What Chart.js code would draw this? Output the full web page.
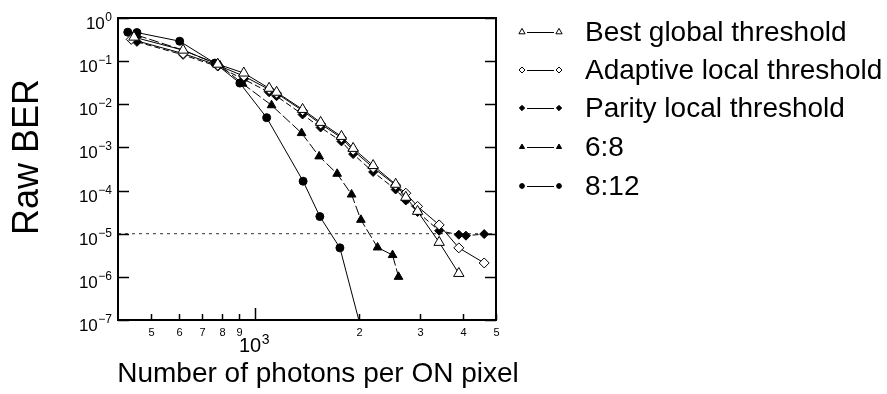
<!DOCTYPE html>
<html>
<head>
<meta charset="utf-8">
<script src="https://cdn.jsdelivr.net/npm/chart.js@4.4.1/dist/chart.umd.min.js"></script>
<style>
  html, body { margin: 0; padding: 0; background: #fff; }
  #wrap { width: 887px; height: 394px; }
</style>
</head>
<body>
<div id="wrap"><canvas id="chart"></canvas></div>
<script>
// photons per ON pixel vs raw BER
const bestX = [445, 618, 779, 927, 1098, 1154, 1373, 1549, 1780, 1925, 2200, 2557, 2737, 2960, 3420, 3900];
const bestY = [0.36, 0.18, 0.085, 0.053, 0.0235, 0.019, 0.0076, 0.0038, 0.0018, 9.5e-4, 3.8e-4, 1.4e-4, 7e-5, 3.3e-5, 6.3e-6, 1.2e-6];

const adaptiveX = [437, 618, 779, 927, 1098, 1154, 1373, 1549, 1780, 1925, 2200, 2557, 2737, 2960, 3420, 3900, 4620];
const adaptiveY = [0.32, 0.15, 0.08, 0.045, 0.022, 0.018, 0.0071, 0.0035, 0.00167, 8.6e-4, 3.4e-4, 1.33e-4, 8.7e-5, 4.3e-5, 1.6e-5, 4.7e-6, 2.1e-6];

const parityX = [454, 618, 779, 927, 1098, 1154, 1373, 1549, 1780, 1925, 2200, 2557, 2737, 2960, 3420, 3900, 4090, 4620];
const parityY = [0.28, 0.14, 0.075, 0.038, 0.019, 0.0154, 0.0058, 0.0029, 0.00138, 7.0e-4, 2.7e-4, 1.06e-4, 5.9e-5, 3.2e-5, 1.17e-5, 9.5e-6, 9.0e-6, 9.8e-6];

const r68X = [454, 618, 790, 920, 1116, 1364, 1534, 1730, 1905, 2027, 2266, 2505, 2607];
const r68Y = [0.4, 0.18, 0.08, 0.03, 0.0095, 0.00215, 6.2e-4, 2.45e-4, 8.1e-5, 2.1e-5, 4.8e-6, 3.2e-6, 1.0e-6];

const r812X = [427, 454, 604, 764, 903, 1080, 1378, 1541, 1762, 2060];
const r812Y = [0.47, 0.46, 0.29, 0.09, 0.031, 0.0049, 1.65e-4, 2.5e-5, 4.7e-6, 4e-8];

const seriesNames = ["Best global threshold", "Adaptive local threshold", "Parity local threshold", "6:8", "8:12"];

const targetBER = 1e-5;
const xMin = 400, xMax = 5000;
const yMin = 1e-7, yMax = 1;

const yTickExps = [0, -1, -2, -3, -4, -5, -6, -7];
const xMinorTicks = [500, 600, 700, 800, 900, 2000, 3000, 4000, 5000];
const xMinorLabels = ["5", "6", "7", "8", "9", "2", "3", "4", "5"];
const xMajorTick = 1000;

const FONT = "'Liberation Sans', Arial, Helvetica, sans-serif";

const pts = (xs, ys) => xs.map((v, i) => ({ x: v, y: ys[i] }));

const series = (label, xs, ys, style, radius, fill, dash) => ({
  label: label,
  data: pts(xs, ys),
  borderColor: "#000",
  borderWidth: 1,
  borderDash: dash,
  pointStyle: style,
  pointRadius: radius,
  pointBackgroundColor: fill,
  pointBorderColor: "#000",
  pointBorderWidth: 1,
  tension: 0,
});

const drawSup = (ctx, base, sup, xRight, yBase, bigSize, smallSize, supRise) => {
  ctx.font = smallSize + "px " + FONT;
  const ws = ctx.measureText(sup).width;
  ctx.textAlign = "right";
  ctx.textBaseline = "alphabetic";
  ctx.fillText(sup, xRight, yBase - supRise);
  ctx.font = bigSize + "px " + FONT;
  ctx.fillText(base, xRight - ws - 0.5, yBase);
};

const framePlugin = {
  id: "frame",
  afterDraw(chart) {
    const { ctx, chartArea: a } = chart;
    const x = chart.scales.x, y = chart.scales.y;
    ctx.save();
    ctx.strokeStyle = "#000";
    ctx.fillStyle = "#000";

    // y ticks, both sides, pointing in
    ctx.lineWidth = 1.5;
    yTickExps.forEach((e) => {
      const py = Math.round(y.getPixelForValue(Math.pow(10, e))) + 0.5;
      ctx.beginPath();
      ctx.moveTo(a.left, py);
      ctx.lineTo(a.left + 11, py);
      ctx.moveTo(a.right - 11, py);
      ctx.lineTo(a.right, py);
      ctx.stroke();
      drawSup(ctx, "10", e === 0 ? "0" : "\u2212" + (-e), 112, py + 10, 17, 12, 8);
    });

    // x ticks
    xMinorTicks.forEach((v, i) => {
      const px = Math.round(x.getPixelForValue(v)) + 0.5;
      ctx.beginPath();
      ctx.moveTo(px, a.bottom);
      ctx.lineTo(px, a.bottom - 6);
      ctx.stroke();
      ctx.font = "11px " + FONT;
      ctx.textAlign = "center";
      ctx.textBaseline = "middle";
      ctx.fillText(xMinorLabels[i], px, a.bottom + 13);
    });
    const pm = Math.round(x.getPixelForValue(xMajorTick)) + 0.5;
    ctx.beginPath();
    ctx.moveTo(pm, a.bottom);
    ctx.lineTo(pm, a.bottom - 12);
    ctx.stroke();
    drawSup(ctx, "10", "3", pm + 14, a.bottom + 32, 20, 14, 8);

    // frame
    ctx.lineWidth = 2;
    ctx.strokeRect(a.left, a.top, a.right - a.left, a.bottom - a.top);

    // axis titles
    ctx.font = "28px " + FONT;
    ctx.textAlign = "center";
    ctx.textBaseline = "middle";
    ctx.fillText("Number of photons per ON pixel", 318, 374);
    ctx.save();
    ctx.translate(28, 157);
    ctx.rotate(-Math.PI / 2);
    ctx.font = "36px " + FONT;
    ctx.fillText("Raw BER", 0, 0);
    ctx.restore();

    // legend
    const legendY = [32, 70, 108, 147, 186];
    chart.data.datasets.slice(0, seriesNames.length).forEach((ds, i) => {
      const ly = legendY[i];
      ctx.lineWidth = 1;
      ctx.strokeStyle = "#000";
      ctx.beginPath();
      ctx.moveTo(527, ly + 0.5);
      ctx.lineTo(554, ly + 0.5);
      ctx.stroke();
      [522, 559].forEach((lx) => {
        ctx.fillStyle = ds.pointBackgroundColor;
        ctx.strokeStyle = "#000";
        ctx.lineWidth = 1;
        Chart.helpers.drawPoint(ctx, { pointStyle: ds.pointStyle, rotation: 0, radius: ds.pointRadius * 0.6, borderWidth: 1 }, lx, ly);
      });
      ctx.fillStyle = "#000";
      ctx.font = "28px " + FONT;
      ctx.textAlign = "left";
      ctx.textBaseline = "middle";
      ctx.fillText(seriesNames[i], 585, ly + 1);
    });
    ctx.restore();
  },
};

new Chart(document.getElementById("chart"), {
  type: "line",
  data: {
    datasets: [
      series(seriesNames[0], bestX, bestY, "triangle", 6, "#fff", []),
      series(seriesNames[1], adaptiveX, adaptiveY, "rectRot", 5, "#fff", []),
      series(seriesNames[2], parityX, parityY, "rectRot", 4.5, "#000", [6, 3]),
      series(seriesNames[3], r68X, r68Y, "triangle", 5, "#000", [10, 3]),
      series(seriesNames[4], r812X, r812Y, "circle", 4, "#000", []),
      {
        label: "target",
        data: pts([xMin, xMax], [targetBER, targetBER]),
        borderColor: "#333",
        borderWidth: 1,
        borderDash: [3, 4],
        pointRadius: 0,
      },
    ],
  },
  options: {
    responsive: true,
    maintainAspectRatio: false,
    animation: false,
    events: [],
    layout: { padding: { left: 118, top: 18, right: 391, bottom: 74 } },
    plugins: { legend: { display: false }, tooltip: { enabled: false } },
    scales: {
      x: { type: "logarithmic", min: xMin, max: xMax, display: false },
      y: { type: "logarithmic", min: yMin, max: yMax, display: false },
    },
  },
  plugins: [framePlugin],
});
</script>
</body>
</html>
